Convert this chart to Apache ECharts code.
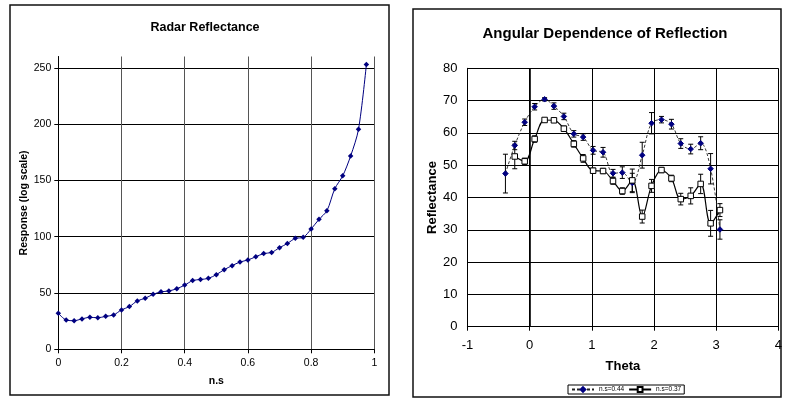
<!DOCTYPE html>
<html><head><meta charset="utf-8">
<script src="https://cdn.jsdelivr.net/npm/echarts@6/dist/echarts.min.js"></script>
<style>html,body{margin:0;padding:0;background:#fff}#c{width:785px;height:402px}</style>
</head><body><div id="c"></div>
<script>
// Left chart: Radar Reflectance
const nsValues = [0,0.025,0.05,0.075,0.1,0.125,0.15,0.175,0.2,0.225,0.25,0.275,0.3,0.325,0.35,0.375,0.4,0.425,0.45,0.475,0.5,0.525,0.55,0.575,0.6,0.625,0.65,0.675,0.7,0.725,0.75,0.775,0.8,0.825,0.85,0.875,0.9,0.925,0.95,0.975];
const response = [32,26,25.4,27,28.4,28,29.3,30.5,35,37.9,43,45.3,48.8,51,51.8,53.8,57,61,62,63,66.3,70.7,74.3,77.5,79.3,82.2,85,86,90.2,94,98.5,99.4,106.8,115.4,123,142.6,154,171.6,195.3,253];

// Right chart: Angular Dependence of Reflection
const theta = [-0.39,-0.24,-0.08,0.08,0.24,0.39,0.55,0.71,0.86,1.02,1.18,1.34,1.49,1.65,1.81,1.96,2.12,2.28,2.43,2.59,2.75,2.91,3.06];
const refl044 = [47.4,56.1,63.3,68.1,70.4,68.3,65.1,59.7,58.7,54.6,54.0,47.5,47.7,44.5,53.1,63.0,64.1,62.7,56.7,55.0,56.8,48.9,30.1];
const err044 = [6,1.3,1,1,0.5,1,1,1,1,1.2,1.5,1.2,1.8,3,4,3.3,1,1.5,1.5,1.5,2,4.7,3];
const refl037 = [null,52.7,51.2,58.1,64.0,63.9,61.3,56.6,52.1,48.3,48.2,45.1,42.0,45.3,34.1,43.6,48.5,45.9,39.5,40.5,44.2,32.0,36.1];
const err037 = [null,3.8,1,1,0.5,0.5,0.8,1,1.2,0.8,0.8,1,1,3.5,2,2,0.8,1,1.8,2.5,3,4,2];

const F = 'Liberation Sans, Arial, sans-serif';
const pairs = (xs, ys) => xs.map((x, i) => [x, ys[i]]);
const errData = (xs, ys, es) => xs.map((x, i) => ys[i] == null ? null : [x, ys[i] - es[i], ys[i] + es[i]]).filter(d => d);

function errorSeries(data, xi, yi) {
  return {
    type: 'custom', xAxisIndex: xi, yAxisIndex: yi, z: 3, silent: true,
    data: data,
    renderItem: function (params, api) {
      const x = api.value(0);
      const lo = api.coord([x, api.value(1)]);
      const hi = api.coord([x, api.value(2)]);
      const w = 2.5;
      const st = { stroke: '#000', lineWidth: 1 };
      return { type: 'group', children: [
        { type: 'line', shape: { x1: lo[0], y1: lo[1], x2: hi[0], y2: hi[1] }, style: st },
        { type: 'line', shape: { x1: lo[0] - w, y1: lo[1], x2: lo[0] + w, y2: lo[1] }, style: st },
        { type: 'line', shape: { x1: hi[0] - w, y1: hi[1], x2: hi[0] + w, y2: hi[1] }, style: st }
      ]};
    }
  };
}

const chart = echarts.init(document.getElementById('c'), null, { renderer: 'canvas' });
chart.setOption({
  animation: false,
  backgroundColor: '#fff',
  textStyle: { fontFamily: F },
  title: [
    { text: 'Radar Reflectance', left: 200, top: 16, textAlign: 'center',
      textStyle: { fontFamily: F, fontSize: 12.5, fontWeight: 'bold', color: '#000' } },
    { text: 'Angular Dependence of Reflection', left: 600, top: 21, textAlign: 'center',
      textStyle: { fontFamily: F, fontSize: 15, fontWeight: 'bold', color: '#000' } }
  ],
  graphic: [
    { type: 'rect', shape: { x: 10, y: 5, width: 379, height: 390 }, style: { fill: 'none', stroke: '#111', lineWidth: 1.5 }, z: 0 },
    { type: 'rect', shape: { x: 413, y: 9, width: 368, height: 388 }, style: { fill: 'none', stroke: '#111', lineWidth: 1.5 }, z: 0 }
  ],
  legend: {
    data: ['n.s=0.44', 'n.s=0.37'],
    left: 568, top: 385, orient: 'horizontal',
    itemWidth: 22, itemHeight: 6, itemGap: 4,
    padding: [1, 3], borderColor: '#000', borderWidth: 1,
    textStyle: { fontFamily: F, fontSize: 6.5, color: '#000' }
  },
  grid: [
    { left: 58.3, right: 410.7, top: 56.5, bottom: 52.7, containLabel: false },
    { left: 467.5, right: 5, top: 68.3, bottom: 75.3, containLabel: false }
  ],
  xAxis: [
    { type: 'value', gridIndex: 0, min: 0, max: 1, interval: 0.2,
      name: 'n.s', nameLocation: 'middle', nameGap: 26,
      nameTextStyle: { fontFamily: F, fontSize: 10.5, fontWeight: 'bold', color: '#000' },
      axisLine: { show: true, lineStyle: { color: '#000', width: 1 } },
      axisTick: { show: true, length: 4, lineStyle: { color: '#000' } },
      axisLabel: { fontFamily: F, fontSize: 10.5, color: '#000', margin: 8 },
      splitLine: { show: true, lineStyle: { color: '#555', width: 1 } } },
    { type: 'value', gridIndex: 1, min: -1, max: 4, interval: 1,
      name: 'Theta', nameLocation: 'middle', nameGap: 33,
      nameTextStyle: { fontFamily: F, fontSize: 13, fontWeight: 'bold', color: '#000' },
      axisLine: { show: true, onZero: false, lineStyle: { color: '#000', width: 1.2 } },
      axisTick: { show: true, length: 4, lineStyle: { color: '#000' } },
      axisLabel: { fontFamily: F, fontSize: 13, color: '#000', margin: 12 },
      splitLine: { show: true, lineStyle: { color: '#000', width: 1 } } }
  ],
  yAxis: [
    { type: 'value', gridIndex: 0, min: 0, max: 260, interval: 50,
      name: 'Response (log scale)', nameLocation: 'middle', nameGap: 26,
      nameTextStyle: { fontFamily: F, fontSize: 10.5, fontWeight: 'bold', color: '#000' },
      axisLine: { show: true, lineStyle: { color: '#000', width: 1 } },
      axisTick: { show: true, length: 4, lineStyle: { color: '#000' } },
      axisLabel: { fontFamily: F, fontSize: 10.5, color: '#000', margin: 7, showMaxLabel: false },
      splitLine: { show: true, showMaxLine: false, lineStyle: { color: '#000', width: 1 } } },
    { type: 'value', gridIndex: 1, min: 0, max: 80, interval: 10,
      name: 'Reflectance', nameLocation: 'middle', nameGap: 29,
      nameTextStyle: { fontFamily: F, fontSize: 13, fontWeight: 'bold', color: '#000' },
      axisLine: { show: true, onZero: false, lineStyle: { color: '#000', width: 1 } },
      axisTick: { show: false },
      axisLabel: { fontFamily: F, fontSize: 13, color: '#000', margin: 10 },
      splitLine: { show: true, lineStyle: { color: '#000', width: 1 } } }
  ],
  series: [
    { type: 'line', xAxisIndex: 0, yAxisIndex: 0, data: pairs(nsValues, response),
      smooth: 0.3, symbol: 'diamond', symbolSize: 5.5,
      lineStyle: { color: '#000080', width: 1 },
      itemStyle: { color: '#000080' }, z: 5 },
    errorSeries(errData(theta, refl044, err044), 1, 1),
    errorSeries(errData(theta, refl037, err037), 1, 1),
    { name: 'n.s=0.44', type: 'line', xAxisIndex: 1, yAxisIndex: 1, data: pairs(theta, refl044),
      smooth: 0.35, symbol: 'diamond', symbolSize: 5.5,
      lineStyle: { color: '#222', width: 0.9, type: [3, 2] },
      itemStyle: { color: '#000080', borderColor: '#000080', borderWidth: 1 }, z: 5,
      markLine: { silent: true, symbol: 'none', label: { show: false },
        lineStyle: { color: '#000', width: 1.6, type: 'solid' }, data: [{ xAxis: 0 }] } },
    { name: 'n.s=0.37', type: 'line', xAxisIndex: 1, yAxisIndex: 1, data: pairs(theta, refl037),
      smooth: 0.35, symbol: 'rect', symbolSize: 5.5, connectNulls: false,
      lineStyle: { color: '#000', width: 1.2 },
      itemStyle: { color: '#fff', borderColor: '#000', borderWidth: 1 }, z: 6 }
  ]
});
</script></body></html>
